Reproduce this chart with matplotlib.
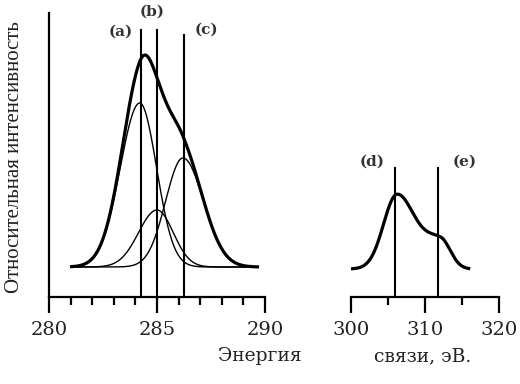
import numpy as np
import matplotlib
matplotlib.use("Agg")
import matplotlib.pyplot as plt
from matplotlib.ticker import MultipleLocator

# --- data
# C1s component peaks: centre (eV), height, left/right width (eV)
c1s_centers = [284.2, 285.0, 286.2]
c1s_heights = [164, 57, 109]
c1s_sigma_left = [0.90, 0.85, 0.80]
c1s_sigma_right = [0.78, 0.75, 0.95]
c1s_range = [281.05, 289.65]
c1s_baseline = 30

peak_lines_left = [284.27, 285.0, 286.23]
peak_tops_left = [267, 267, 262]
labels_left = ["(a)", "(b)", "(c)"]
label_pos_left = [(283.3, 265), (284.77, 285), (287.3, 267)]

# K2p region components
k_centers = [306.2, 312.1]
k_heights = [74, 28.5]
k_sigma_left = [1.8, 2.2]
k_sigma_right = [2.4, 1.35]
k_range = [300.2, 315.9]
k_baseline = 28

peak_lines_right = [305.9, 311.8]
peak_tops_right = [129, 129]
labels_right = ["(d)", "(e)"]
label_pos_right = [(302.9, 135), (315.3, 135)]

xticks_left = [280, 285, 290]
xticks_right = [300, 310, 320]

fig = plt.figure(figsize=(5.2, 3.84), dpi=100)
W, H = 520, 384
bottom = (H - 297) / H
height = (297 - 13) / H
axL = fig.add_axes([49 / W, bottom, (265 - 49) / W, height])
axR = fig.add_axes([351 / W, bottom, (499 - 351) / W, height])


def peak(x, c, h, sl, sr):
    s = np.where(x < c, sl, sr)
    return h * np.exp(-(x - c) ** 2 / (2 * s ** 2))


xl = np.linspace(c1s_range[0], c1s_range[1], 800)
comps = [peak(xl, c, h, sl, sr) for c, h, sl, sr in
         zip(c1s_centers, c1s_heights, c1s_sigma_left, c1s_sigma_right)]
for comp in comps:
    axL.plot(xl, c1s_baseline + comp, color="black", lw=1.0)
axL.plot(xl, c1s_baseline + sum(comps), color="black", lw=2.3)
for x, t in zip(peak_lines_left, peak_tops_left):
    axL.plot([x, x], [0, t], color="black", lw=1.5, clip_on=False)
for lab, (x, y) in zip(labels_left, label_pos_left):
    axL.text(x, y, lab, ha="center", va="center", fontsize=11, fontweight="bold",
             family="DejaVu Serif", color="#333333", clip_on=False)

xr = np.linspace(k_range[0], k_range[1], 800)
kcomps = [peak(xr, c, h, sl, sr) for c, h, sl, sr in
          zip(k_centers, k_heights, k_sigma_left, k_sigma_right)]
axR.plot(xr, k_baseline + sum(kcomps), color="black", lw=2.3)
for x, t in zip(peak_lines_right, peak_tops_right):
    axR.plot([x, x], [0, t], color="black", lw=1.5, clip_on=False)
for lab, (x, y) in zip(labels_right, label_pos_right):
    axR.text(x, y, lab, ha="center", va="center", fontsize=11, fontweight="bold",
             family="DejaVu Serif", color="#333333", clip_on=False)

for ax, lim, ticks, minor in [(axL, (280, 290), xticks_left, 1),
                              (axR, (300, 320), xticks_right, 5)]:
    ax.set_xlim(*lim)
    ax.set_ylim(0, 284)
    ax.set_yticks([])
    ax.set_xticks(ticks)
    ax.xaxis.set_minor_locator(MultipleLocator(minor))
    ax.tick_params(axis="x", which="major", direction="out", length=11.5, width=1.6,
                   pad=6, labelsize=14, colors="black")
    ax.tick_params(axis="x", which="minor", direction="out", length=5.8, width=1.6)
    for lbl in ax.get_xticklabels():
        lbl.set_family("DejaVu Serif")
        lbl.set_color("#222222")
    for s in ["top", "right"]:
        ax.spines[s].set_visible(False)
    ax.spines["bottom"].set_linewidth(1.6)
    ax.patch.set_alpha(0)

axR.spines["left"].set_visible(False)
axL.spines["left"].set_linewidth(1.6)

fig.text(260 / W, 1 - 356 / H, "Энергия", ha="center", va="center", fontsize=13.5,
         family="DejaVu Serif", color="#222222")
fig.text(423 / W, 1 - 356 / H, "связи, эВ.", ha="center", va="center", fontsize=13.5,
         family="DejaVu Serif", color="#222222")
fig.text(15 / W, 1 - 157 / H, "Относительная интенсивность", rotation=90, ha="center",
         va="center", fontsize=15, family="Liberation Serif", color="#222222")

fig.savefig("out.png", dpi=100)
